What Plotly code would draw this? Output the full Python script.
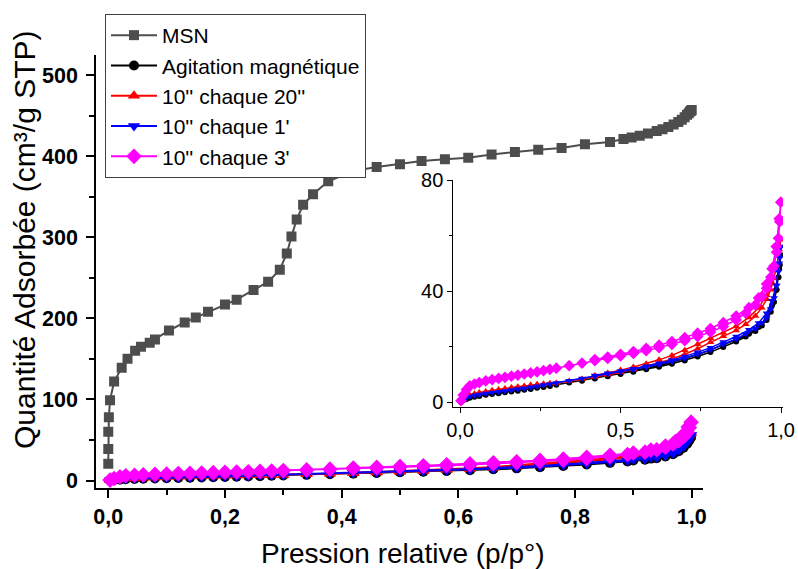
import plotly.graph_objects as go

# ---------------- data ----------------
msn_x = [0.000, 0.000, 0.000, 0.001, 0.003, 0.010, 0.023, 0.033, 0.046, 0.056, 0.071, 0.080,
         0.104, 0.131, 0.150, 0.171, 0.200, 0.220, 0.249, 0.274, 0.294, 0.306, 0.314, 0.323,
         0.334, 0.351, 0.377, 0.420, 0.460, 0.500, 0.537, 0.577, 0.617, 0.657, 0.697, 0.737,
         0.777, 0.817, 0.860, 0.883, 0.897, 0.911, 0.925, 0.940, 0.950, 0.960, 0.969, 0.977,
         0.983, 0.988, 0.992, 0.995, 0.997, 0.999, 1.000]
msn_y = [20.6, 39, 60, 78, 99, 122, 139, 150, 160, 165, 170, 174,
         185, 195, 201, 208, 217, 223, 235, 245, 260, 280, 301, 322,
         340, 353, 369, 381.6, 386.6, 390, 394, 396, 398, 402, 405, 408,
         410, 414.6, 417.5, 421, 423, 425, 428, 431, 433, 436, 439, 442,
         445, 448, 451, 453, 455, 456, 457]

# adsorption branch pressures (shared) and desorption branch pressures (shared)
ads_x = [0.003, 0.01, 0.02, 0.03, 0.045, 0.06, 0.08, 0.10, 0.12, 0.14, 0.16, 0.18, 0.20, 0.22,
         0.24, 0.26, 0.28, 0.30, 0.34, 0.38, 0.42, 0.46, 0.50, 0.54, 0.58, 0.62, 0.66, 0.70,
         0.74, 0.78, 0.82, 0.86, 0.89, 0.92, 0.94, 0.955, 0.968, 0.978, 0.986, 0.992, 0.996, 0.999]
des_x = [0.994, 0.985, 0.972, 0.955, 0.93, 0.90, 0.86, 0.82, 0.78, 0.74, 0.70, 0.66, 0.62,
         0.58, 0.54, 0.50, 0.46, 0.42]

agit_ads = [0.0, 0.6, 1.1, 1.5, 1.9, 2.2, 2.6, 2.9, 3.2, 3.5, 3.8, 4.1, 4.4, 4.7,
            5.1, 5.4, 5.8, 6.2, 7.0, 7.7, 8.5, 9.3, 10.1, 10.9, 11.8, 12.7, 13.8, 15.0,
            16.4, 18.0, 19.8, 21.8, 23.6, 25.6, 27.6, 29.6, 32.5, 36.0, 40.5, 45.0, 49.5, 53.0]
agit_des = [48, 40.5, 35, 30.5, 27, 24.6, 22.5, 20.6, 18.8, 17.1, 15.7, 14.4, 13.2,
            12.2, 11.3, 10.4, 9.6, 8.9]

c20s_ads = [0.3, 1.2, 2.0, 2.5, 3.0, 3.4, 3.8, 4.2, 4.5, 4.9, 5.2, 5.5, 5.8, 6.1,
            6.4, 6.6, 6.8, 6.9, 7.6, 8.3, 9.0, 9.8, 10.7, 11.7, 12.9, 14.2, 15.5, 17.2,
            19.2, 21.5, 23.7, 25.8, 28.0, 31.0, 34.0, 37.0, 40.5, 44.5, 48.5, 52.5, 56.0, 58.5]
c20s_des = [55, 48, 43, 38.5, 34, 30.5, 27.3, 25, 23, 20.8, 18.7, 16.8, 15.2,
            13.8, 12.6, 11.5, 10.5, 9.6]

c1m_ads = [0.3, 1.0, 1.6, 2.0, 2.4, 2.7, 3.1, 3.4, 3.7, 4.0, 4.3, 4.7, 5.0, 5.3,
           5.7, 6.1, 6.5, 6.9, 7.7, 8.5, 9.3, 10.1, 10.9, 11.7, 12.6, 13.6, 14.6, 15.8,
           17.2, 18.8, 20.8, 22.7, 24.5, 26.5, 28.5, 30.5, 33.5, 37.5, 42.0, 47.0, 52.0, 56.0]
c1m_des = [50, 42, 36.5, 32, 28.5, 26, 23.6, 21.6, 19.6, 17.9, 16.4, 15.1, 14.0,
           12.9, 12.0, 11.2, 10.4, 9.6]

c3m_ads = [0.5, 2.5, 4.5, 5.8, 6.5, 7.0, 7.6, 8.1, 8.5, 8.9, 9.3, 9.7, 10.1, 10.5,
           10.9, 11.3, 11.8, 12.2, 13.1, 14.0, 14.9, 15.7, 16.6, 17.5, 18.5, 19.6, 20.8, 22.1,
           23.6, 25.2, 27.2, 29.6, 32.0, 35.0, 38.0, 41.0, 45.0, 49.0, 54.0, 59.0, 65.0, 72.0]
c3m_des = [66, 56, 48, 42.5, 37.5, 34, 31, 28.6, 26.5, 24.8, 23.2, 21.8, 20.5,
           19.3, 18.2, 17.2, 16.2, 15.3]

names = ["MSN", "Agitation magnétique", "10'' chaque 20''", "10'' chaque 1'", "10'' chaque 3'"]

main_xticks = [0, 0.2, 0.4, 0.6, 0.8, 1.0]
main_yticks = [0, 100, 200, 300, 400, 500]
inset_xticks = [0, 0.5, 1.0]
inset_yticks = [0, 40, 80]

# ---------------- figure ----------------
FONT = "Arial, Liberation Sans, sans-serif"
fig = go.Figure()

samples = [
    (names[1], agit_ads, agit_des, "#000000", "circle", 10, 6),
    (names[2], c20s_ads, c20s_des, "#ff0000", "triangle-up", 11, 7),
    (names[3], c1m_ads, c1m_des, "#0000ff", "triangle-down", 11, 7),
    (names[4], c3m_ads, c3m_des, "#ff00ff", "diamond", 12, 9),
]

fig.add_trace(go.Scatter(
    x=msn_x, y=msn_y, name=names[0], mode="lines+markers",
    line=dict(color="#4d4d4d", width=2),
    marker=dict(symbol="square", size=10, color="#4d4d4d"),
    xaxis="x", yaxis="y"))

for nm, ya, yd, col, sym, ms, ms2 in samples:
    fig.add_trace(go.Scatter(
        x=ads_x + des_x, y=ya + yd, name=nm, mode="lines+markers",
        line=dict(color=col, width=2),
        marker=dict(symbol=sym, size=ms, color=col),
        xaxis="x", yaxis="y"))

for nm, ya, yd, col, sym, ms, ms2 in samples:
    fig.add_trace(go.Scatter(
        x=ads_x + des_x, y=ya + yd, name=nm, mode="lines+markers", showlegend=False,
        line=dict(color=col, width=1.5),
        marker=dict(symbol=sym, size=ms2, color=col),
        xaxis="x2", yaxis="y2"))

W, H = 798, 569
L, R, T, B = 94, 12, 53, 79
pw, ph = W - L - R, H - T - B


def px2paper_x(px):
    return min(1.0, max(0.0, (px - L) / pw))


def px2paper_y(py):
    return min(1.0, max(0.0, (H - B - py) / ph))


def ann_x(px):
    return (px - L) / pw


def ann_y(py):
    return (H - B - py) / ph


axis_common = dict(showgrid=False, zeroline=False, showline=True, linecolor="#000000",
                   ticks="outside", tickcolor="#000000", mirror=False)

fig.update_layout(
    width=W, height=H,
    margin=dict(l=L, r=R, t=T, b=B, autoexpand=False),
    paper_bgcolor="white", plot_bgcolor="rgba(0,0,0,0)",
    separators=",.",
    font=dict(family=FONT, color="#000000"),
    xaxis=dict(**axis_common, domain=[px2paper_x(96.2), px2paper_x(703.3)], range=[-0.0207, 1.0199],
               tickvals=main_xticks, tickformat=".1f",
               linewidth=2, tickwidth=2, ticklen=8,
               tickfont=dict(size=21.5, weight="bold", family=FONT),
               minor=dict(dtick=0.1, ticks="outside", ticklen=5, tickwidth=2, tickcolor="#000000"),
               anchor="y"),
    yaxis=dict(**axis_common, domain=[px2paper_y(488.3), px2paper_y(55)], range=[-9.6, 524.7],
               tickvals=main_yticks,
               linewidth=2, tickwidth=2, ticklen=8, ticklabelstandoff=4,
               tickfont=dict(size=21.5, weight="bold", family=FONT),
               minor=dict(dtick=50, ticks="outside", ticklen=5, tickwidth=2, tickcolor="#000000"),
               anchor="x"),
    xaxis2=dict(**axis_common, domain=[px2paper_x(453.3), px2paper_x(783)], range=[-0.021, 1.006],
                tickvals=inset_xticks, tickformat=".1f",
                linewidth=1, tickwidth=1, ticklen=5,
                tickfont=dict(size=20, family=FONT),
                minor=dict(dtick=0.25, ticks="outside", ticklen=3, tickwidth=1, tickcolor="#000000"),
                anchor="y2"),
    yaxis2=dict(**axis_common, domain=[px2paper_y(407.3), px2paper_y(180)], range=[-1.9, 80],
                tickvals=inset_yticks,
                linewidth=1, tickwidth=1, ticklen=5,
                tickfont=dict(size=20, family=FONT),
                minor=dict(dtick=20, ticks="outside", ticklen=3, tickwidth=1, tickcolor="#000000"),
                anchor="x2"),
    legend=dict(x=ann_x(105), y=ann_y(14), xanchor="left", yanchor="top",
                bgcolor="white", bordercolor="#404040", borderwidth=1,
                font=dict(size=21, family=FONT), itemwidth=46, tracegroupgap=0),
    showlegend=True,
    annotations=[
        dict(text="Pression relative (p/p°)", xref="paper", yref="paper",
             x=ann_x(403), y=ann_y(553), xanchor="center", yanchor="middle",
             showarrow=False, font=dict(size=28, family=FONT)),
        dict(text="Quantité Adsorbée (cm³/g STP)", xref="paper", yref="paper",
             x=ann_x(25), y=ann_y(240), xanchor="center", yanchor="middle",
             textangle=-90, showarrow=False, font=dict(size=30, family=FONT)),
    ],
)

# remove the default 8px page margin so the 798x569 figure fills the window exactly
fig.write_html("out.html",
               config={"displayModeBar": False},
               post_script="document.body.style.margin='0px';document.body.style.overflow='hidden';")
